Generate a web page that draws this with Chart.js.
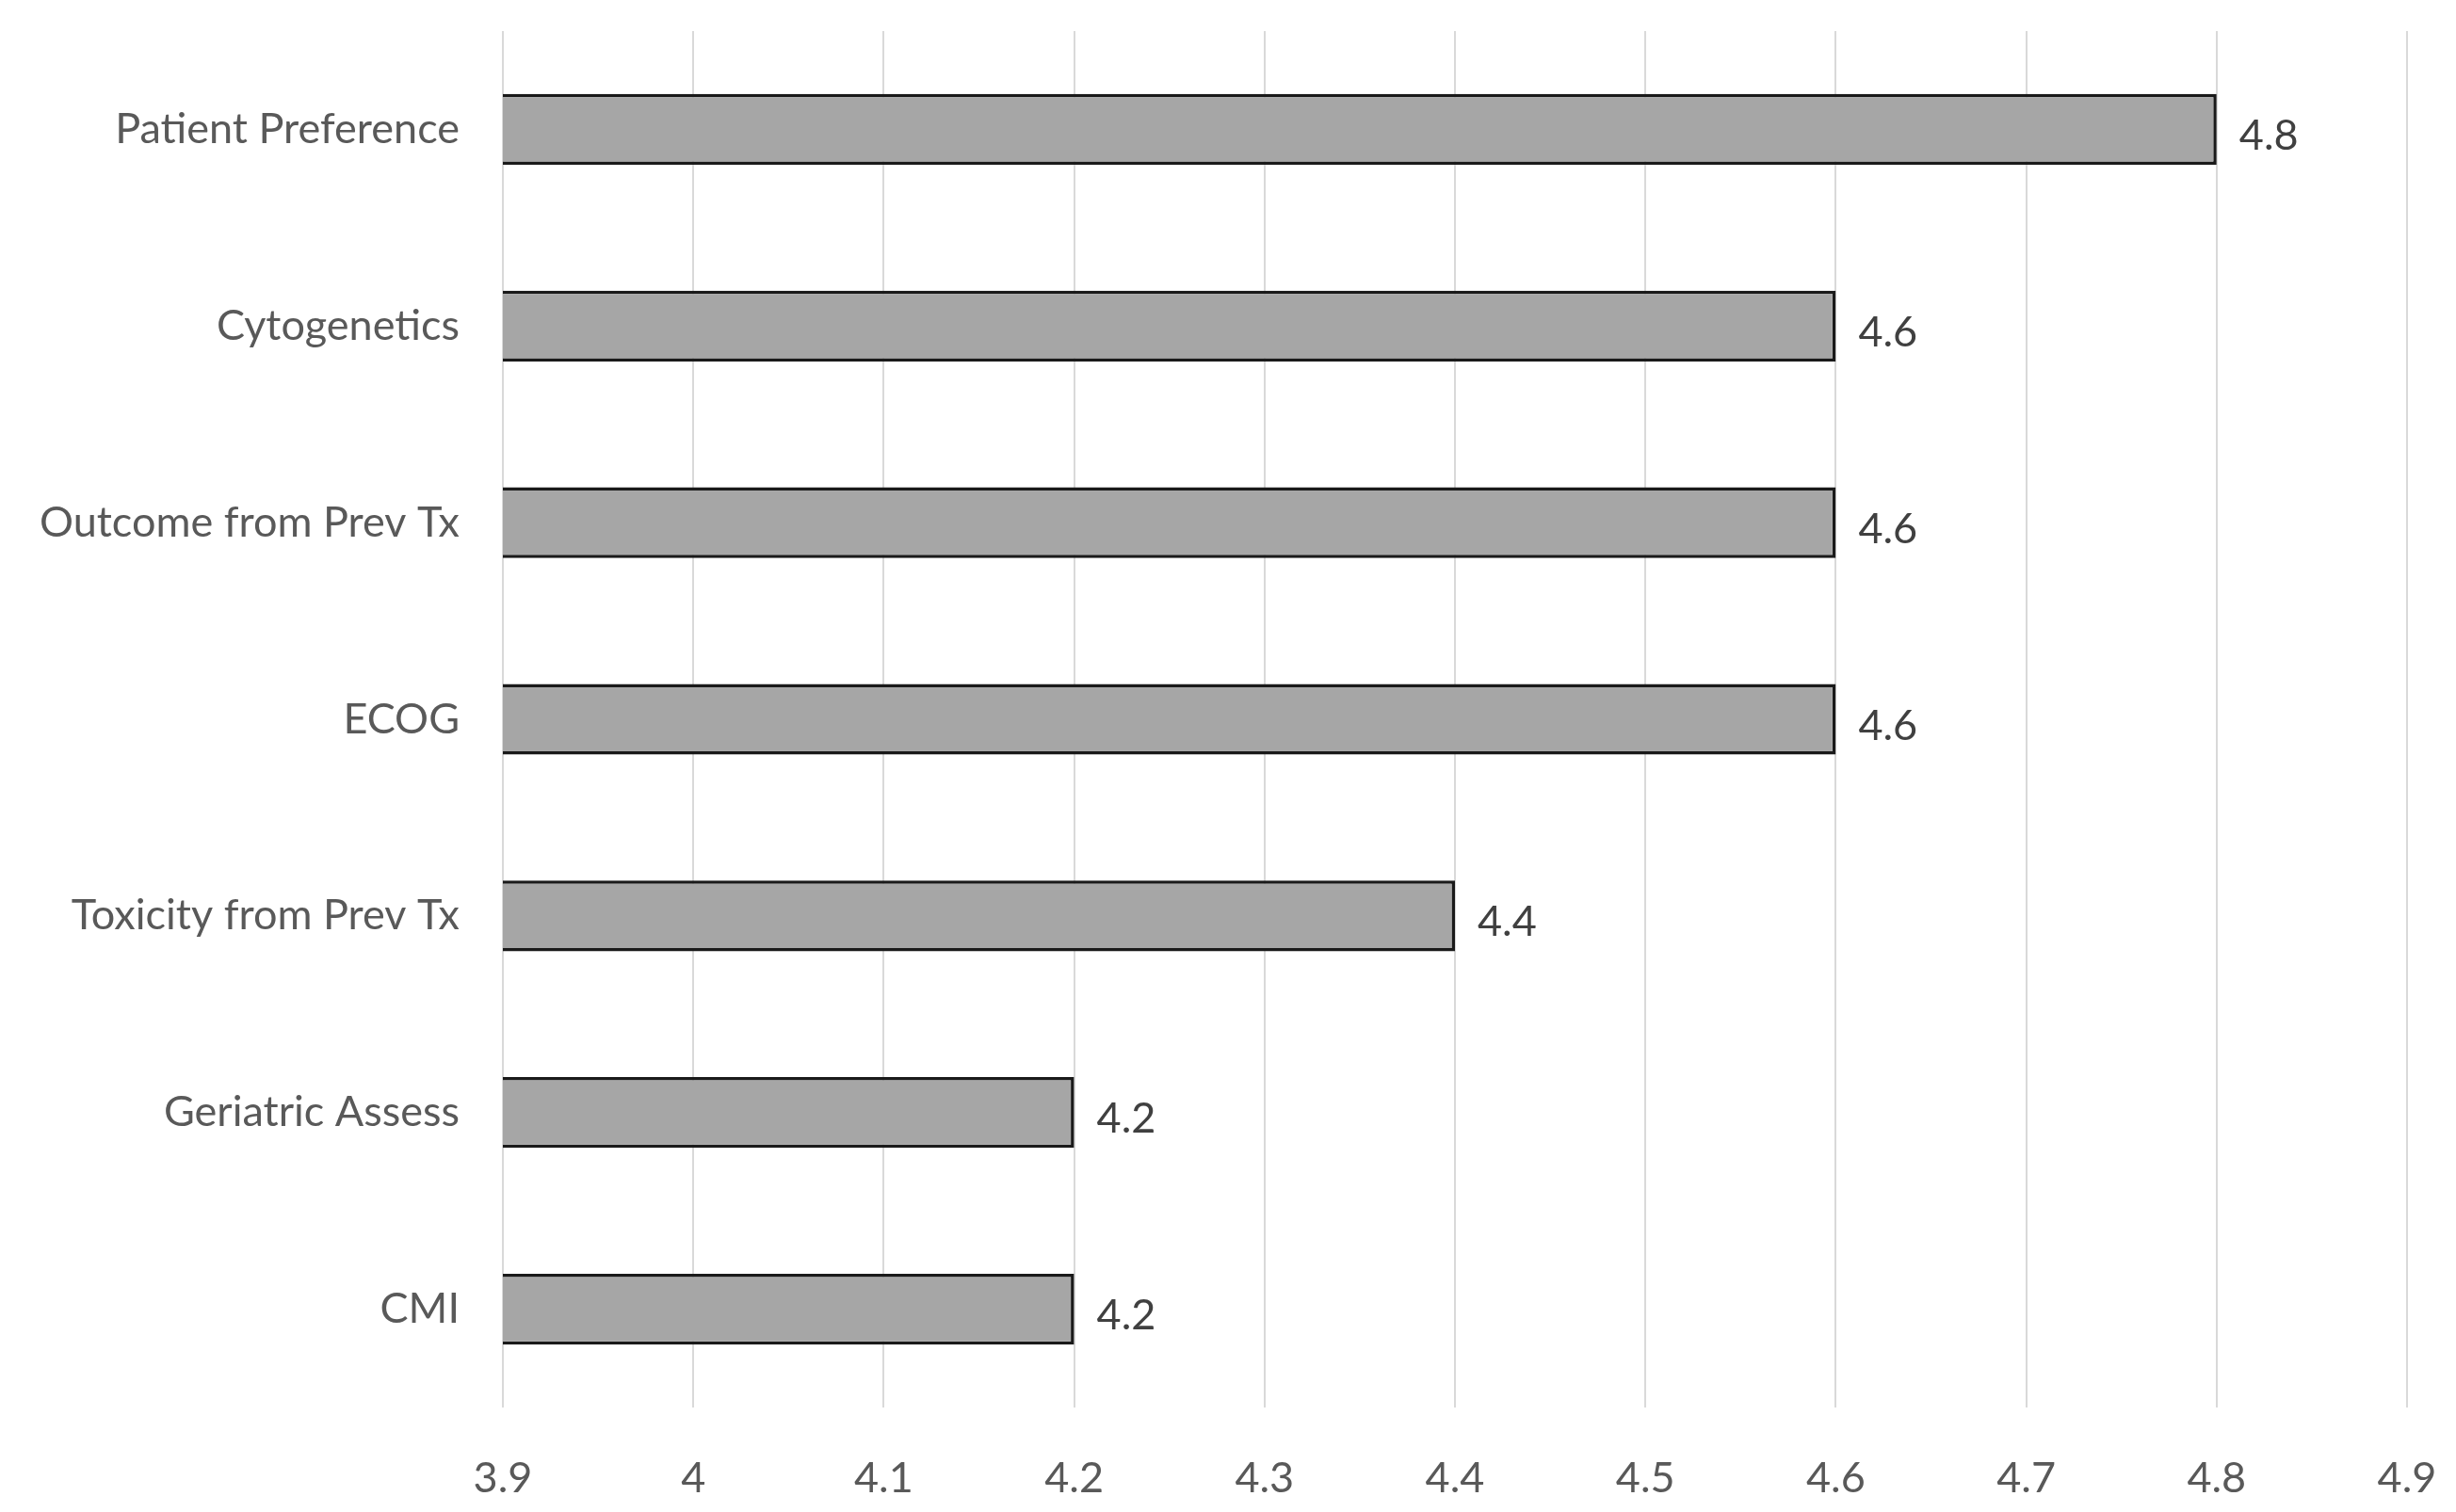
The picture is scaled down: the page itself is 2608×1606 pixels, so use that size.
<!DOCTYPE html>
<html>
<head>
<meta charset="utf-8">
<script src="https://cdn.jsdelivr.net/npm/chart.js@4/dist/chart.umd.min.js"></script>
<style>
  html, body { margin: 0; padding: 0; background: #fff; }
  #wrap { width: 2608px; height: 1606px; }
</style>
</head>
<body>
<div id="wrap"><canvas id="myChart"></canvas></div>
<script>
// Catégories et valeurs
const facteurs = ['Patient Preference', 'Cytogenetics', 'Outcome from Prev Tx', 'ECOG', 'Toxicity from Prev Tx', 'Geriatric Assess', 'CMI'];
const scores = [4.8, 4.6, 4.6, 4.6, 4.4, 4.2, 4.2];
const xTicks = [3.9, 4, 4.1, 4.2, 4.3, 4.4, 4.5, 4.6, 4.7, 4.8, 4.9];

const police = 'Lato, "Open Sans", sans-serif';

// Etiquettes de valeur à droite des barres
const etiquettes = {
    id: 'etiquettes',
    afterDatasetsDraw(chart) {
        const c = chart.ctx;
        const meta = chart.getDatasetMeta(0);
        c.save();
        c.font = '45px ' + police;
        c.fillStyle = '#404040';
        c.textAlign = 'left';
        c.textBaseline = 'middle';
        meta.data.forEach(function (bar, i) {
            c.fillText(String(scores[i]), bar.x + 24, bar.y + 7);
        });
        c.restore();
    }
};

const ctx = document.getElementById('myChart');

new Chart(ctx, {
    type: 'bar',
    data: {
        labels: facteurs,
        datasets: [{
            label: 'Score',
            data: scores,
            backgroundColor: '#a6a6a6',
            borderColor: '#1a1a1a',
            borderWidth: 3.5,
            categoryPercentage: 1,
            barPercentage: 0.36
        }]
    },
    options: {
        indexAxis: 'y',
        responsive: true,
        maintainAspectRatio: false,
        animation: false,
        layout: { padding: { top: 33, right: 52, left: 0, bottom: 0 } },
        plugins: {
            legend: { display: false },
            tooltip: { enabled: false }
        },
        scales: {
            x: {
                min: 3.9,
                max: 4.9,
                afterBuildTicks: function (scale) {
                    scale.ticks = xTicks.map(function (v) { return { value: v }; });
                },
                afterFit: function (scale) {
                    scale.height = 111;
                    scale.paddingLeft = 0;
                    scale.paddingRight = 0;
                },
                grid: { color: '#d9d9d9', lineWidth: 2, drawTicks: false },
                border: { display: false },
                ticks: {
                    padding: 48,
                    color: '#595959',
                    font: { family: police, size: 45 },
                    maxRotation: 0,
                    callback: function (v) { return String(v); }
                }
            },
            y: {
                afterFit: function (scale) {
                    scale.width = 534;
                    scale.paddingTop = 0;
                    scale.paddingBottom = 0;
                },
                grid: { display: false, drawTicks: false },
                border: { display: false },
                ticks: {
                    padding: 46,
                    color: '#595959',
                    font: { family: police, size: 45 }
                }
            }
        }
    },
    plugins: [etiquettes]
});
</script>
</body>
</html>
